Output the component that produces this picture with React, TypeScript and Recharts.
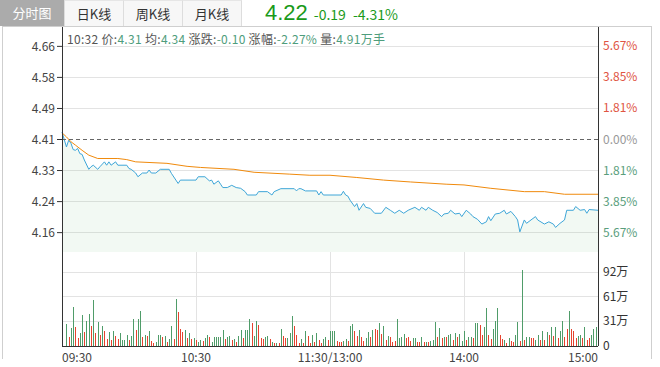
import React from 'react';
import { ComposedChart, Area, Line, Bar, Cell, XAxis, YAxis, CartesianGrid, ReferenceLine } from 'recharts';

const FONT = '"Noto Sans CJK SC", "Noto Sans", sans-serif';

const tabs = ['分时图', '日K线', '周K线', '月K线'];
const lastPrice = '4.22';
const change = '-0.19';
const changePct = '-4.31%';
const infoParts = [
  ['10:32 价:', '4.31'],
  [' 均:', '4.34'],
  [' 涨跌:', '-0.10'],
  [' 涨幅:', '-2.27%'],
  [' 量:', '4.91万手'],
];

const prevClose = 4.41;
const priceTicks = [4.16, 4.2433, 4.3267, 4.41, 4.4933, 4.5767, 4.66];
const pctLabels = ['5.67%', '3.85%', '1.81%', '0.00%', '1.81%', '3.85%', '5.67%'];
const volTicks = [0, 30.67, 61.33, 92];
const volLabels = ['0', '31万', '61万', '92万'];
const timeTicks = [0, 60, 120, 180, 240];
const timeLabels = ['09:30', '10:30', '11:30/13:00', '14:00', '15:00'];

// minute index -> price
const priceT = [0, 2, 3, 4, 5, 6, 7, 8, 9, 10, 12, 13, 14, 16, 17, 19, 20, 21, 22, 24, 25, 29, 30, 31, 33, 34, 36, 38, 39, 40,
  42, 44, 48, 49, 51, 52, 53, 60, 61, 64, 66, 67, 68, 70, 71, 72, 74, 76, 78, 80, 82, 83, 87, 88, 92, 94, 95, 98, 104, 105,
  106, 107, 109, 114, 115, 116, 117, 120, 125, 126, 127, 128, 129, 131, 132, 133, 135, 136, 138, 140, 143, 145, 147, 149, 151, 153, 155, 158, 160, 161,
  163, 164, 166, 168, 170, 171, 173, 174, 176, 178, 179, 181, 183, 184, 186, 188, 190, 191, 192, 194, 196, 198, 199, 201, 203, 204, 205, 207, 208, 210,
  212, 213, 216, 218, 220, 221, 223, 225, 226, 229, 230, 232, 234, 235, 236, 240];
const priceV = [4.43, 4.39, 4.408, 4.4, 4.383, 4.381, 4.386, 4.372, 4.37, 4.355, 4.33, 4.337, 4.341, 4.33, 4.337, 4.35, 4.341, 4.35, 4.341, 4.35, 4.341, 4.341, 4.332, 4.33, 4.32, 4.31, 4.32, 4.32, 4.328, 4.32,
  4.32, 4.33, 4.33, 4.319, 4.301, 4.292, 4.301, 4.301, 4.31, 4.31, 4.299, 4.301, 4.29, 4.299, 4.29, 4.281, 4.281, 4.287, 4.281, 4.279, 4.27, 4.261, 4.261, 4.27, 4.27, 4.261, 4.27, 4.278, 4.278, 4.272,
  4.278, 4.278, 4.272, 4.272, 4.261, 4.27, 4.261, 4.261, 4.261, 4.271, 4.261, 4.258, 4.247, 4.23, 4.238, 4.22, 4.238, 4.228, 4.225, 4.212, 4.212, 4.228, 4.22, 4.212, 4.22, 4.212, 4.22, 4.228, 4.22, 4.228,
  4.22, 4.228, 4.22, 4.214, 4.203, 4.21, 4.212, 4.22, 4.21, 4.212, 4.203, 4.22, 4.21, 4.203, 4.196, 4.183, 4.189, 4.203, 4.192, 4.21, 4.212, 4.22, 4.21, 4.217, 4.203, 4.194, 4.162, 4.194, 4.185, 4.194,
  4.203, 4.194, 4.183, 4.189, 4.183, 4.174, 4.185, 4.194, 4.22, 4.22, 4.23, 4.22, 4.222, 4.212, 4.222, 4.22];

// average price line
const avgT = [0, 2, 4, 6, 9, 12, 16, 25, 29, 33, 47, 56, 62, 77, 86, 102, 111, 120, 132, 144, 156, 172, 180, 192, 207, 216, 225, 240];
const avgV = [4.428, 4.417, 4.404, 4.395, 4.381, 4.368, 4.359, 4.359, 4.356, 4.35, 4.346, 4.338, 4.335, 4.33, 4.322, 4.317, 4.314, 4.314,
  4.308, 4.301, 4.296, 4.29, 4.288, 4.279, 4.27, 4.27, 4.263, 4.263];

// volume per minute (万), t = 0..240
const volumes = [
  0, 0, 28, 11, 23, 49, 24, 10, 16, 39,
  18, 31, 40, 25, 57, 16, 30, 14, 25, 19,
  9, 18, 8, 19, 13, 9, 16, 8, 8, 14,
  8, 13, 34, 20, 34, 43, 11, 14, 13, 19,
  6, 4, 5, 14, 14, 11, 13, 5, 9, 25,
  9, 59, 42, 21, 18, 20, 10, 16, 9, 10,
  8, 5, 8, 6, 10, 14, 11, 5, 11, 11,
  11, 11, 20, 9, 11, 13, 8, 9, 5, 13,
  20, 10, 20, 20, 33, 29, 13, 31, 26, 10,
  9, 11, 13, 9, 5, 4, 4, 4, 21, 13,
  10, 10, 16, 37, 25, 14, 4, 9, 4, 19,
  13, 4, 14, 5, 16, 8, 4, 9, 11, 8,
  19,
  19, 19, 6, 5, 5, 6, 9, 6, 25, 28,
  19, 13, 20, 11, 6, 10, 18, 11, 20, 21,
  20, 29, 15, 25, 8, 13, 11, 5, 6, 33,
  10, 11, 15, 10, 11, 6, 10, 10, 5, 5,
  11, 5, 5, 5, 6, 8, 30, 11, 23, 10,
  11, 11, 14, 15, 8, 16, 11, 15, 6, 19,
  8, 11, 11, 10, 29, 29, 26, 14, 24, 47,
  14, 9, 21, 31, 47, 14, 9, 8, 4, 10,
  6, 5, 14, 30, 6, 94, 8, 11, 11, 10,
  10, 8, 14, 8, 19, 8, 18, 14, 24, 13,
  24, 10, 19, 31, 11, 21, 43, 21, 19, 10,
  13, 14, 10, 24, 8, 10, 14, 21, 24, 38,
];
// 1 = price up in that minute (red), 0 = down (green)
const volUp = [
  0, 0, 0, 1, 0, 0, 1, 1, 0, 0,
  1, 0, 0, 1, 0, 1, 0, 1, 0, 1,
  1, 0, 1, 0, 1, 1, 0, 0, 0, 0,
  1, 0, 0, 1, 0, 0, 1, 0, 1, 0,
  1, 1, 0, 0, 0, 1, 0, 1, 0, 0,
  1, 0, 1, 1, 1, 0, 1, 0, 1, 0,
  1, 0, 0, 1, 0, 0, 1, 0, 0, 0,
  0, 0, 0, 1, 0, 0, 1, 0, 1, 0,
  0, 1, 0, 0, 0, 1, 0, 0, 1, 1,
  1, 0, 0, 1, 0, 1, 0, 1, 0, 1,
  1, 0, 0, 0, 1, 1, 1, 0, 1, 0,
  1, 1, 0, 1, 0, 1, 1, 0, 0, 1,
  0,
  0, 0, 1, 1, 1, 0, 0, 1, 0, 0,
  1, 1, 0, 1, 1, 0, 0, 1, 0, 1,
  1, 0, 1, 0, 1, 0, 1, 1, 1, 0,
  0, 0, 0, 1, 1, 1, 0, 0, 1, 1,
  0, 1, 0, 1, 0, 0, 0, 1, 0, 1,
  0, 1, 0, 0, 1, 0, 1, 0, 0, 0,
  1, 0, 0, 1, 0, 0, 1, 1, 0, 0,
  1, 1, 0, 0, 0, 1, 1, 0, 1, 0,
  1, 1, 0, 0, 1, 0, 1, 0, 0, 1,
  1, 0, 0, 1, 0, 1, 0, 1, 0, 1,
  0, 1, 0, 0, 1, 1, 0, 1, 1, 1,
  0, 0, 1, 0, 1, 1, 0, 0, 0, 0,
];

const RED = '#e6432e';
const GREEN = '#4f9c69';
const AXIS = '#333';

function buildPriceRows() {
  const map = new Map<number, any>();
  priceT.forEach((t, i) => map.set(t, { t, price: priceV[i] }));
  avgT.forEach((t, i) => {
    const r = map.get(t) || { t };
    r.avg = avgV[i];
    map.set(t, r);
  });
  return Array.from(map.values()).sort((a, b) => a.t - b.t);
}

const PctTick = (props: any) => {
  const { x, y, payload } = props;
  const i = priceTicks.indexOf(payload.value);
  const color = i < 3 ? '#5a9e7c' : i === 3 ? '#999' : '#e05442';
  return <text x={x} y={y} dy={4} fill={color} fontSize={12} textAnchor="start">{pctLabels[i]}</text>;
};

const VolTick = (props: any) => {
  const { x, y, payload } = props;
  const i = volTicks.indexOf(payload.value);
  return <text x={x} y={y} dy={4} fill="#333" fontSize={12} textAnchor="start">{volLabels[i]}</text>;
};

const TimeTick = (props: any) => {
  const { x, y, payload } = props;
  const i = timeTicks.indexOf(payload.value);
  const anchor = i === 0 ? 'start' : i === timeTicks.length - 1 ? 'end' : 'middle';
  return <text x={x} y={y} dy="0.71em" fill="#444" fontSize={12} textAnchor={anchor}>{timeLabels[i]}</text>;
};

export default function App() {
  const rows = buildPriceRows();
  const volData = volumes.map((v, i) => ({ t: i, vol: v }));
  const crisp = { shapeRendering: 'crispEdges' } as any;

  return (
    <div style={{ position: 'absolute', left: 0, top: 0, width: 660, height: 367, background: '#fff', fontFamily: FONT, overflow: 'hidden' }}>
      {/* tab bar */}
      <div style={{ position: 'absolute', left: 0, top: 0, height: 26, display: 'flex' }}>
        {tabs.map((t, i) => (
          <div key={t} style={{
            width: i === 0 ? 65 : 59, height: 26, lineHeight: '25px', textAlign: 'center', fontSize: 13,
            background: i === 0 ? '#ababab' : '#f7f7f7', color: i === 0 ? '#fff' : '#333',
            borderRight: '1px solid #ddd', borderTop: i === 0 ? 'none' : '1px solid #e6e6e6', boxSizing: 'border-box',
          }}>{t}</div>
        ))}
      </div>
      <div style={{ position: 'absolute', left: 265, top: 0, height: 26, display: 'flex', alignItems: 'baseline', color: '#1a9a1a', whiteSpace: 'nowrap' }}>
        <span style={{ fontSize: 22, lineHeight: '26px', fontFamily: '"Liberation Sans", Arial, sans-serif' }}>{lastPrice}</span>
        <span style={{ fontSize: 14, marginLeft: 6, lineHeight: '22px' }}>{change}</span>
        <span style={{ fontSize: 14, marginLeft: 7, lineHeight: '22px' }}>{changePct}</span>
      </div>

      {/* frame */}
      <div style={{ position: 'absolute', left: 2, top: 26, width: 650, height: 333, borderLeft: '1px solid #cfcfcf', borderRight: '1px solid #cfcfcf', borderTop: '1px solid #cfcfcf', boxSizing: 'border-box' }} />

      <div style={{ position: 'absolute', left: 0, top: 0 }}>
        <ComposedChart width={660} height={253} data={rows} margin={{ top: 27, right: 0, bottom: 1, left: 0 }}>
          <CartesianGrid yAxisId="l" stroke="#e3e3e3" horizontalValues={priceTicks.filter(v => v !== prevClose)} verticalValues={[60, 120, 180]} {...crisp} />
          <XAxis dataKey="t" type="number" domain={[0, 240]} ticks={timeTicks} tick={false} tickLine={false} height={0} axisLine={{ stroke: AXIS, ...crisp }} />
          <YAxis yAxisId="l" domain={[4.108, 4.712]} ticks={priceTicks} width={62} tickSize={5} tickMargin={2} tickLine={{ stroke: AXIS }}
            axisLine={{ stroke: AXIS, ...crisp }} tick={{ fill: '#444', fontSize: 12 }} tickFormatter={(v: number) => v.toFixed(2)} interval={0} />
          <YAxis yAxisId="r" orientation="right" domain={[4.108, 4.712]} ticks={priceTicks} width={62} tickSize={3} tickMargin={2}
            tickLine={false} axisLine={{ stroke: AXIS, ...crisp }} tick={<PctTick />} interval={0} />
          <Area yAxisId="l" type="linear" dataKey="price" stroke="#3ea6d8" strokeWidth={1} fill="#4caf50" fillOpacity={0.07}
            connectNulls dot={false} activeDot={false} isAnimationActive={false} />
          <Line yAxisId="r" type="linear" dataKey="avg" stroke="#f08a0c" strokeWidth={1} connectNulls dot={false} activeDot={false} isAnimationActive={false} />
          <ReferenceLine yAxisId="l" y={prevClose} stroke="#666" strokeDasharray="4 3" {...crisp} />
          <ReferenceLine yAxisId="l" x={240} stroke={AXIS} {...crisp} />
        </ComposedChart>
      </div>

      <div style={{ position: 'absolute', left: 67, top: 31, fontSize: 12, lineHeight: '16px', color: '#555', whiteSpace: 'nowrap', letterSpacing: 0.3 }}>
        {infoParts.map(([label, val], i) => (
          <span key={i}>{label}<span style={{ color: '#4e9d7c' }}>{val}</span></span>
        ))}
      </div>

      <div style={{ position: 'absolute', left: 0, top: 252 }}>
        <ComposedChart width={660} height={115} data={volData} margin={{ top: 0, right: 0, bottom: 0, left: 0 }}>
          <CartesianGrid yAxisId="r" stroke="#e3e3e3" horizontalValues={volTicks.slice(1)} verticalValues={[60, 120, 180]} {...crisp} />
          <XAxis dataKey="t" type="number" domain={[0, 240]} ticks={timeTicks} height={21} tickSize={5} tickLine={false}
            axisLine={{ stroke: AXIS, ...crisp }} tick={<TimeTick />} interval={0} />
          <YAxis yAxisId="l" domain={[0, 117]} ticks={volTicks} width={62} tick={false} tickLine={false} axisLine={{ stroke: AXIS, ...crisp }} />
          <YAxis yAxisId="r" orientation="right" domain={[0, 117]} ticks={volTicks} width={62} tickSize={3} tickMargin={2}
            tickLine={false} axisLine={{ stroke: AXIS, ...crisp }} tick={<VolTick />} interval={0} />
          <Bar yAxisId="r" dataKey="vol" barSize={1} isAnimationActive={false} {...crisp}>
            {volData.map((d, i) => <Cell key={i} fill={volUp[i] ? RED : GREEN} />)}
          </Bar>
          <Line yAxisId="l" dataKey="vol" stroke="none" dot={false} activeDot={false} isAnimationActive={false} legendType="none" />
          <ReferenceLine yAxisId="r" x={240} stroke={AXIS} {...crisp} />
        </ComposedChart>
      </div>
    </div>
  );
}
